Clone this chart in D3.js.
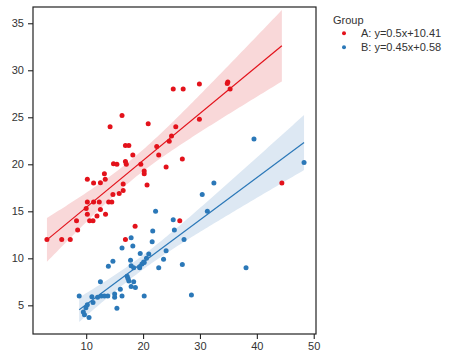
<!DOCTYPE html>
<html><head><meta charset="utf-8">
<script src="https://cdn.jsdelivr.net/npm/d3@7"></script>
<style>body{margin:0;background:#fff;} svg{display:block;font-family:"Liberation Sans",Arial,sans-serif;}</style>
</head><body>
<svg id="chart" width="464" height="359"></svg>
<script>
const groups = ["A", "B"];
const slopes = [0.5, 0.45];
const intercepts = [10.41, 0.58];
const xTicks = [10, 20, 30, 40, 50];
const yTicks = [5, 10, 15, 20, 25, 30, 35];
const colors = ["#e3121b", "#2b78b8"];
const bandColors = ["#f9d8d9", "#dde8f3"];

const groupA_x = [3.1,5.7,7.2,8.5,8.3,10.0,10.2,10.2,10.6,11.2,11.3,10.2,11.3,12.5,13.2,13.35,12.3,12.5,11.9,13.4,13.95,14.5,14.7,15.8,16.5,16.5,16.9,18.6,20.2,20.2,20.7,26.45,14.2,16.3,14.8,15.4,16.9,17.05,16.9,17.5,18.2,19.6,20.9,22.4,22.75,24.05,24.6,25.0,25.3,25.75,26.9,27.05,29.9,29.9,34.9,34.8,35.3,44.4];
const groupA_y = [12.0,12.0,12.0,13.0,14.0,15.3,16.0,14.7,14.0,14.0,16.0,18.4,18.0,18.05,19.0,18.4,16.0,15.2,14.5,14.7,16.0,16.0,16.8,16.9,17.2,17.9,12.0,13.4,19.0,19.3,17.8,14.0,24.0,25.2,20.05,20.0,20.3,20.0,22.0,22.0,21.0,20.0,24.3,21.9,21.0,19.7,22.45,23.0,28.0,24.0,20.55,28.0,28.55,24.8,28.75,28.6,28.0,18.0];

const groupB_x = [8.77,9.5,9.7,9.95,10.2,10.5,11.0,11.2,12.0,12.5,12.65,13.2,13.8,13.9,14.7,15.0,15.0,15.4,16.0,16.3,16.3,17.2,17.35,17.5,17.8,17.9,18.2,17.9,18.35,17.9,18.35,18.65,19.4,19.5,19.8,20.2,20.2,20.6,21.0,21.6,21.7,22.2,22.75,23.6,24.05,25.3,25.5,26.9,27.2,28.5,30.4,31.3,32.45,38.1,39.5,48.3,19.4,20.1];
const groupB_y = [6.0,4.3,4.0,4.75,5.05,3.7,5.9,5.3,5.85,7.5,6.0,6.0,6.0,9.15,9.7,6.2,5.85,4.7,6.7,6.0,11.1,8.1,7.85,7.6,9.8,12.2,11.3,9.2,9.0,7.0,7.5,6.9,9.0,10.5,9.4,9.55,6.0,10.0,10.45,11.75,12.9,15.0,9.0,9.9,10.8,14.1,13.0,9.35,12.0,6.1,16.8,15.0,18.0,9.0,22.7,20.2,9.1,9.6];

const svg = d3.select("#chart");
const L = 33, R = 316, T = 7, B = 334;
const x = d3.scaleLinear().domain([0.65, 50.4]).range([L, R]);
const y = d3.scaleLinear().domain([1.95, 36.73]).range([B, T]);

const series = [
  {xs: groupA_x, ys: groupA_y},
  {xs: groupB_x, ys: groupB_y}
];

// CI bands around the given regression lines
series.forEach((s, i) => {
  const n = s.xs.length;
  const xbar = d3.mean(s.xs);
  const sxx = d3.sum(s.xs, v => (v - xbar) ** 2);
  const resid = s.xs.map((v, k) => s.ys[k] - (slopes[i] * v + intercepts[i]));
  const se = Math.sqrt(d3.sum(resid, r => r * r) / (n - 2));
  const t = 2.45;
  const [x0, x1] = d3.extent(s.xs);
  const grid = d3.range(0, 101).map(k => x0 + (x1 - x0) * k / 100);
  const band = grid.map(v => {
    const yh = slopes[i] * v + intercepts[i];
    const h = t * se * Math.sqrt(1 / n + (v - xbar) ** 2 / sxx);
    return {x: v, lo: yh - h, hi: yh + h};
  });
  svg.append("path").datum(band)
    .attr("fill", bandColors[i])
    .attr("d", d3.area().x(d => x(d.x)).y0(d => y(d.lo)).y1(d => y(d.hi)));
  s.x0 = x0; s.x1 = x1;
});

series.forEach((s, i) => {
  svg.append("line")
    .attr("x1", x(s.x0)).attr("y1", y(slopes[i] * s.x0 + intercepts[i]))
    .attr("x2", x(s.x1)).attr("y2", y(slopes[i] * s.x1 + intercepts[i]))
    .attr("stroke", colors[i]).attr("stroke-width", 1.2);
});

series.forEach((s, i) => {
  svg.append("g").selectAll("circle").data(s.xs.map((v, k) => [v, s.ys[k]]))
    .join("circle")
    .attr("cx", d => x(d[0])).attr("cy", d => y(d[1]))
    .attr("r", 2.5).attr("fill", colors[i]);
});

// frame
svg.append("rect").attr("x", L).attr("y", T).attr("width", R - L).attr("height", B - T)
  .attr("fill", "none").attr("stroke", "#222").attr("stroke-width", 1.2);

const xAxis = svg.append("g").attr("transform", `translate(0,${B})`)
  .call(d3.axisBottom(x).tickValues(xTicks).tickSize(5).tickPadding(3));
const yAxis = svg.append("g").attr("transform", `translate(${L},0)`)
  .call(d3.axisLeft(y).tickValues(yTicks).tickSize(5).tickPadding(4));
[xAxis, yAxis].forEach(a => {
  a.select(".domain").remove();
  a.selectAll(".tick line").attr("stroke", "#222").attr("stroke-width", 1.1);
  a.selectAll(".tick text").attr("fill", "#333").style("font-size", "11px")
    .style("font-family", "'Liberation Sans', Arial, sans-serif");
});

// legend
const lg = svg.append("g");
lg.append("text").attr("x", 333).attr("y", 24).text("Group")
  .attr("fill", "#333").style("font-size", "11px");
const labels = groups.map((g, i) => `${g}: y=${slopes[i]}x+${intercepts[i]}`);
labels.forEach((lab, i) => {
  const cy = 33.3 + i * 14;
  lg.append("circle").attr("cx", 344).attr("cy", cy).attr("r", 2).attr("fill", colors[i]);
  lg.append("text").attr("x", 361).attr("y", cy + 4).text(lab)
    .attr("fill", "#333").style("font-size", "11px");
});
</script>
</body></html>
